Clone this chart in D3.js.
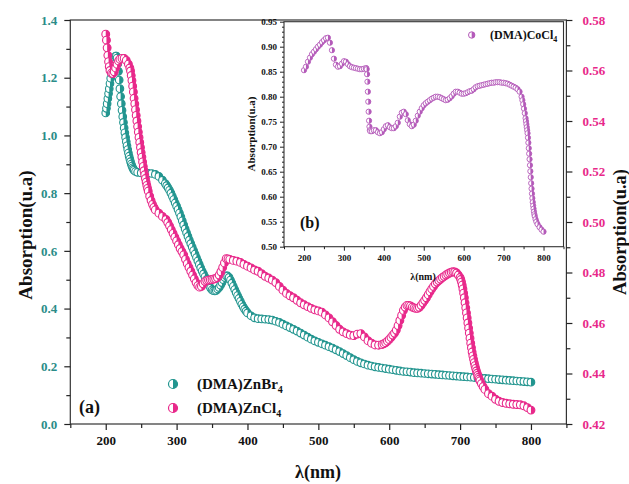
<!DOCTYPE html>
<html><head><meta charset="utf-8">
<script src="https://cdn.jsdelivr.net/npm/d3@7"></script>
<style>
body{margin:0;background:#fff;}
svg text{font-family:"Liberation Serif","DejaVu Serif","Noto Serif",serif;font-weight:bold;}
</style></head>
<body><svg id="c" width="629" height="484"></svg>
<script>
// ---------- DATA ----------
const xTicksMain = [200,300,400,500,600,700,800];
const leftTicks = [0.0,0.2,0.4,0.6,0.8,1.0,1.2,1.4];
const rightTicks = [0.42,0.44,0.46,0.48,0.50,0.52,0.54,0.56,0.58];
const insetXTicks = [200,300,400,500,600,700,800];
const insetYTicks = [0.50,0.55,0.60,0.65,0.70,0.75,0.80,0.85,0.90,0.95];
const seriesNames = ["(DMA)ZnBr","(DMA)ZnCl","(DMA)CoCl"];

// (DMA)ZnBr4 - left axis
const znbrWavelength = [200,201,202,203,204,205,206,207,208,209,210,211,212,213,214,215,216,217,218,219,220,221,222,223,224,225,226,227,228,229,230,231,232,233,234,235,236,237,238,239,240,242,245,250,255,260,265,270,275,280,284,286,288,290,292,294,296,298,300,302,304,306,308,310,312,314,316,318,320,322,324,326,328,330,332,334,336,338,340,342,344,346,348,350,352,354,356,358,360,362,364,366,368,370,372,374,376,378,380,382,384,386,388,390,392,394,396,398,400,405,410,415,420,425,430,435,440,445,450,455,460,465,470,475,480,485,490,495,500,505,510,515,520,525,530,535,540,545,550,555,560,565,570,575,580,585,590,595,600,605,610,615,620,625,630,635,640,645,650,655,660,665,670,675,680,685,690,695,700,705,710,715,720,725,730,735,740,745,750,755,760,765,770,775,780,785,790,795,800];
const znbrAbsorption = [1.078,1.094,1.11,1.128,1.145,1.162,1.18,1.198,1.215,1.231,1.245,1.256,1.265,1.271,1.275,1.275,1.268,1.248,1.222,1.192,1.162,1.135,1.11,1.087,1.065,1.045,1.026,1.009,0.993,0.978,0.964,0.951,0.939,0.928,0.918,0.909,0.901,0.894,0.888,0.883,0.879,0.875,0.872,0.87,0.869,0.869,0.868,0.865,0.858,0.845,0.833,0.826,0.818,0.81,0.8,0.789,0.778,0.766,0.755,0.743,0.731,0.718,0.704,0.69,0.676,0.663,0.65,0.637,0.625,0.613,0.601,0.589,0.577,0.565,0.553,0.541,0.53,0.52,0.51,0.5,0.49,0.48,0.471,0.465,0.462,0.461,0.463,0.468,0.473,0.481,0.49,0.5,0.508,0.513,0.513,0.508,0.499,0.488,0.477,0.466,0.455,0.445,0.435,0.425,0.415,0.406,0.398,0.391,0.385,0.375,0.368,0.365,0.364,0.363,0.362,0.36,0.356,0.352,0.346,0.34,0.334,0.328,0.322,0.315,0.308,0.301,0.294,0.288,0.283,0.278,0.273,0.268,0.263,0.257,0.251,0.244,0.237,0.23,0.223,0.217,0.212,0.208,0.204,0.201,0.198,0.196,0.194,0.192,0.19,0.188,0.186,0.184,0.182,0.181,0.18,0.178,0.177,0.176,0.175,0.174,0.173,0.172,0.171,0.17,0.169,0.168,0.167,0.166,0.165,0.164,0.163,0.162,0.161,0.16,0.159,0.158,0.157,0.156,0.155,0.154,0.153,0.152,0.151,0.15,0.149,0.148,0.147,0.146,0.145,0.144,0.143];

// (DMA)ZnCl4 - right axis
const znclWavelength = [200,201,202,203,204,205,206,208,210,212,214,216,218,220,223,226,229,232,234,235,236,237,238,239,240,241,242,243,244,245,246,247,248,249,250,251,252,253,254,255,256,257,258,259,260,262,264,266,268,270,275,280,285,287.5,290,292.5,295,297.5,300,302.5,305,307.5,310,312.5,315,317.5,320,322.5,325,327.5,330,332.5,335,337.5,340,342.5,345,347.5,350,352.5,355,357.5,360,362.5,365,367.5,370,372.5,375,380,385,390,395,400,405,410,415,420,425,430,435,440,445,450,455,460,465,470,475,480,485,490,495,500,505,510,515,520,525,530,535,540,545,550,555,560,565,570,575,580,585,590,592.5,595,597.5,600,602.5,605,607.5,610,612.5,615,617.5,620,622.5,625,627.5,630,632.5,635,637.5,640,642.5,645,647.5,650,652.5,655,657.5,660,662.5,665,667.5,670,672.5,675,677.5,680,682.5,685,687.5,690,692.5,695,697.5,700,701,702,703,704,705,706,707,708,709,710,711,712,713,714,715,716,717,718,719,720,721,722,723,724,725,726,727,728,730,732.5,735,740,745,750,755,760,765,770,775,780,785,790,795,800];
const znclAbsorption = [0.5744,0.572,0.569,0.566,0.5635,0.5615,0.56,0.559,0.5588,0.5595,0.561,0.5625,0.5638,0.5645,0.5648,0.5648,0.564,0.5625,0.561,0.5598,0.558,0.556,0.5538,0.5515,0.549,0.5468,0.5445,0.5422,0.54,0.5378,0.5356,0.5335,0.5315,0.5295,0.5275,0.5257,0.5238,0.522,0.5203,0.5187,0.5172,0.5158,0.5145,0.5133,0.5122,0.5102,0.5085,0.507,0.5058,0.5048,0.5035,0.5022,0.501,0.4998,0.4985,0.497,0.4955,0.494,0.4925,0.491,0.4895,0.4883,0.487,0.4852,0.4835,0.482,0.4805,0.479,0.4775,0.476,0.4748,0.4742,0.4745,0.4755,0.4765,0.4768,0.477,0.4771,0.4772,0.4774,0.4776,0.478,0.479,0.4803,0.482,0.4838,0.4855,0.4854,0.4852,0.4848,0.4845,0.484,0.4832,0.4825,0.4818,0.481,0.4805,0.4795,0.4785,0.4778,0.477,0.476,0.4745,0.473,0.4717,0.4708,0.47,0.469,0.468,0.4672,0.4665,0.4658,0.4652,0.4648,0.4643,0.4632,0.462,0.4605,0.459,0.4575,0.4565,0.4558,0.4552,0.455,0.4556,0.4558,0.4545,0.453,0.452,0.4513,0.4512,0.4515,0.4518,0.4522,0.4528,0.4535,0.4543,0.4552,0.456,0.4572,0.459,0.461,0.463,0.465,0.4663,0.467,0.467,0.4668,0.4663,0.466,0.4658,0.4658,0.4662,0.467,0.468,0.469,0.47,0.4712,0.4724,0.4735,0.4745,0.4755,0.4762,0.4768,0.4774,0.478,0.4785,0.479,0.4794,0.4798,0.4801,0.4803,0.4802,0.4798,0.479,0.478,0.4772,0.4762,0.475,0.4735,0.4718,0.47,0.468,0.466,0.464,0.462,0.46,0.458,0.456,0.454,0.452,0.4502,0.4485,0.447,0.4456,0.4443,0.4431,0.442,0.441,0.4401,0.4393,0.4385,0.4378,0.4371,0.436,0.4348,0.4337,0.432,0.431,0.4298,0.429,0.4285,0.4282,0.428,0.4278,0.4277,0.4276,0.4272,0.4265,0.4255];

// (DMA)CoCl4 - inset
const coclWavelength = [200,205,210,215,220,225,230,235,240,245,250,255,260,265,270,275,280,285,290,295,300,305,310,315,320,325,330,335,340,345,350,355,356,357,358,359,360,361,362,363,364,365,366,370,375,380,385,390,395,400,405,410,415,420,425,430,435,440,445,450,455,460,465,470,475,480,485,490,495,500,505,510,515,520,525,530,535,540,545,550,555,560,565,570,575,580,585,590,595,600,605,610,615,620,625,630,635,640,645,650,655,660,665,670,675,680,685,690,695,700,705,710,715,720,725,730,735,740,745,747,749,751,753,755,756,757,758,759,760,761,762,763,764,765,766,767,768,769,770,771,772,773,774,775,776,777,778,780,782,785,790,795,800];
const coclAbsorption = [0.853,0.86,0.87,0.878,0.885,0.89,0.895,0.9,0.904,0.909,0.913,0.917,0.918,0.908,0.893,0.876,0.864,0.86,0.861,0.866,0.871,0.87,0.865,0.861,0.859,0.858,0.857,0.856,0.855,0.855,0.856,0.857,0.857,0.855,0.845,0.83,0.81,0.79,0.77,0.752,0.74,0.733,0.731,0.731,0.733,0.733,0.729,0.727,0.729,0.735,0.741,0.743,0.739,0.737,0.737,0.741,0.748,0.76,0.768,0.77,0.765,0.753,0.745,0.741,0.744,0.752,0.762,0.77,0.777,0.783,0.787,0.79,0.793,0.796,0.798,0.8,0.8,0.799,0.797,0.795,0.793,0.794,0.797,0.801,0.806,0.81,0.81,0.808,0.806,0.806,0.807,0.809,0.811,0.812,0.815,0.819,0.821,0.822,0.823,0.824,0.825,0.826,0.827,0.828,0.828,0.829,0.829,0.829,0.828,0.828,0.827,0.826,0.824,0.822,0.82,0.818,0.815,0.81,0.8,0.793,0.785,0.776,0.767,0.757,0.751,0.745,0.739,0.733,0.727,0.718,0.708,0.697,0.686,0.675,0.663,0.651,0.639,0.627,0.616,0.606,0.597,0.589,0.582,0.576,0.57,0.565,0.561,0.555,0.55,0.545,0.539,0.534,0.53];

// ---------- STYLE ----------
const TEAL = "#22958f", TEAL_TXT = "#2b8c88";
const PINK = "#e8288a";
const PURPLE = "#b45ab9";
const SERIF = "\"Liberation Serif\", \"DejaVu Serif\", \"Noto Serif\", serif";

const svg = d3.select("#c");

// main scales
const x = d3.scaleLinear().domain([150,850]).range([70.3,566.4]);
const yL = d3.scaleLinear().domain([0,1.4]).range([424,20]);
const yR = d3.scaleLinear().domain([0.42,0.58]).range([424,20]);

// right-half filled circle
function halfPath(r){ return `M0,${-r}A${r},${r} 0 0 1 0,${r}Z`; }
function drawMarkers(g, xs, ys, xScale, yScale, color, r, sw){
  const pts = xs.map((d,i)=>[xScale(d), yScale(ys[i])]);
  const m = g.selectAll(null).data(pts).enter().append("g")
    .attr("transform", d=>`translate(${d[0]},${d[1]})`);
  m.append("circle").attr("r", r).attr("fill","#fff").attr("stroke",color).attr("stroke-width",sw);
  m.append("path").attr("d", halfPath(r)).attr("fill",color);
}

// frame
svg.append("rect").attr("x",70.3).attr("y",20).attr("width",566.4-70.3).attr("height",404)
  .attr("fill","none").attr("stroke","#333").attr("stroke-width",1.2);

// bottom axis
const gx = svg.append("g").attr("transform","translate(0,424)");
gx.call(d3.axisBottom(x).tickValues(d3.range(150,851,50)).tickSize(4).tickFormat(""));
gx.call(g=>g.selectAll(".tick line").filter(d=>d%100===0).attr("y2",6));
gx.selectAll("path").remove();
gx.selectAll(".tick line").attr("stroke","#222").attr("stroke-width",1.2);
const gxl = svg.append("g").attr("transform","translate(0,424)");
gxl.call(d3.axisBottom(x).tickValues(xTicksMain).tickSize(0).tickPadding(12).tickFormat(d3.format("d")));
gxl.selectAll("path").remove();
gxl.selectAll("text").attr("font-size",13).attr("fill","#111");

// left axis
const gl = svg.append("g").attr("transform","translate(70.3,0)");
gl.call(d3.axisLeft(yL).tickValues(d3.range(0,1.41,0.1)).tickSize(4).tickFormat(""));
gl.selectAll(".tick line").filter((d,i)=>i%2===0).attr("x2",-6);
gl.selectAll("path").remove();
gl.selectAll(".tick line").attr("stroke","#222").attr("stroke-width",1.2);
const gll = svg.append("g").attr("transform","translate(70.3,0)");
gll.call(d3.axisLeft(yL).tickValues(leftTicks).tickSize(0).tickPadding(13).tickFormat(d3.format(".1f")));
gll.selectAll("path").remove();
gll.selectAll("text").attr("font-size",13).attr("fill",TEAL_TXT);

// right axis
const gr = svg.append("g").attr("transform","translate(566.4,0)");
gr.call(d3.axisRight(yR).tickValues(d3.range(0,17).map(i=>0.42+i*0.01)).tickSize(4).tickFormat(""));
gr.selectAll(".tick line").filter((d,i)=>i%2===0).attr("x2",6);
gr.selectAll("path").remove();
gr.selectAll(".tick line").attr("stroke","#222").attr("stroke-width",1.2);
const grl = svg.append("g").attr("transform","translate(566.4,0)");
grl.call(d3.axisRight(yR).tickValues(rightTicks).tickSize(0).tickPadding(16).tickFormat(d3.format(".2f")));
grl.selectAll("path").remove();
grl.selectAll("text").attr("font-size",13).attr("fill",PINK);

// axis titles
svg.append("text").attr("transform","translate(32,235) rotate(-90)").attr("text-anchor","middle")
  .attr("font-size",19).attr("fill","#111").text("Absorption(u.a)");
svg.append("text").attr("transform","translate(626,232) rotate(-90)").attr("text-anchor","middle")
  .attr("font-size",18.5).attr("fill","#111").text("Absorption(u.a)");
svg.append("text").attr("x",318).attr("y",478).attr("text-anchor","middle")
  .attr("font-size",18).attr("fill","#111").text("λ(nm)");

// series
drawMarkers(svg.append("g"), znbrWavelength, znbrAbsorption, x, yL, TEAL, 3.8, 1.1);
drawMarkers(svg.append("g"), znclWavelength, znclAbsorption, x, yR, PINK, 3.9, 1.1);

// legend
const legY = [384, 408];
const legColors = [TEAL, PINK];
legY.forEach((ly,i)=>{
  const g = svg.append("g").attr("transform",`translate(173,${ly})`);
  g.append("circle").attr("r",4.5).attr("fill","#fff").attr("stroke",legColors[i]).attr("stroke-width",1.2);
  g.append("path").attr("d",halfPath(4.5)).attr("fill",legColors[i]);
  const t = svg.append("text").attr("x",197).attr("y",ly+5).attr("font-size",15).attr("fill","#111");
  t.append("tspan").text(seriesNames[i]);
  t.append("tspan").attr("font-size",10).attr("dy",4).text("4");
});
svg.append("text").attr("x",79).attr("y",413).attr("font-size",18).attr("fill","#111").text("(a)");

// ---------- INSET ----------
const xi = d3.scaleLinear().domain([150,850]).range([284,563.5]);
const yi = d3.scaleLinear().domain([0.5,0.95]).range([246.7,21.7]);
svg.append("rect").attr("x",284).attr("y",21.7).attr("width",563.5-284).attr("height",225)
  .attr("fill","#fff").attr("stroke","#333").attr("stroke-width",1.1);

const ix = svg.append("g").attr("transform","translate(0,246.7)");
ix.call(d3.axisBottom(xi).tickValues(d3.range(150,851,50)).tickSize(2.5).tickFormat(""));
ix.selectAll(".tick line").filter(d=>d%100===0).attr("y2",4);
ix.selectAll("path").remove();
ix.selectAll(".tick line").attr("stroke","#222");
const ixl = svg.append("g").attr("transform","translate(0,246.7)");
ixl.call(d3.axisBottom(xi).tickValues(insetXTicks).tickSize(0).tickPadding(8).tickFormat(d3.format("d")));
ixl.selectAll("path").remove();
ixl.selectAll("text").attr("font-size",9).attr("fill","#111");

const iy = svg.append("g").attr("transform","translate(284,0)");
iy.call(d3.axisLeft(yi).tickValues(d3.range(0,46).map(i=>0.5+i*0.01)).tickSize(2).tickFormat(""));
iy.selectAll(".tick line").filter((d,i)=>i%5===0).attr("x2",-4);
iy.selectAll("path").remove();
iy.selectAll(".tick line").attr("stroke","#222");
const iyl = svg.append("g").attr("transform","translate(284,0)");
iyl.call(d3.axisLeft(yi).tickValues(insetYTicks).tickSize(0).tickPadding(7).tickFormat(d3.format(".2f")));
iyl.selectAll("path").remove();
iyl.selectAll("text").attr("font-size",9).attr("fill","#111");

svg.append("text").attr("transform","translate(255,134) rotate(-90)").attr("text-anchor","middle")
  .attr("font-size",11).attr("fill","#111").text("Absorption(u.a)");
svg.append("text").attr("x",423).attr("y",280).attr("text-anchor","middle")
  .attr("font-size",10).attr("fill","#111").text("λ(nm)");
svg.append("text").attr("x",300).attr("y",228).attr("font-size",16).attr("fill","#111").text("(b)");

drawMarkers(svg.append("g"), coclWavelength, coclAbsorption, xi, yi, PURPLE, 2.6, 0.9);

const ilg = svg.append("g").attr("transform","translate(471.7,35)");
ilg.append("circle").attr("r",3.2).attr("fill","#fff").attr("stroke",PURPLE).attr("stroke-width",1);
ilg.append("path").attr("d",halfPath(3.2)).attr("fill",PURPLE);
const it = svg.append("text").attr("x",490).attr("y",39).attr("font-size",12).attr("fill","#111");
it.append("tspan").text(seriesNames[2]);
it.append("tspan").attr("font-size",8).attr("dy",3).text("4");

svg.selectAll("text").attr("font-family",SERIF).style("font-family",SERIF).style("font-weight","bold");
</script></body></html>
